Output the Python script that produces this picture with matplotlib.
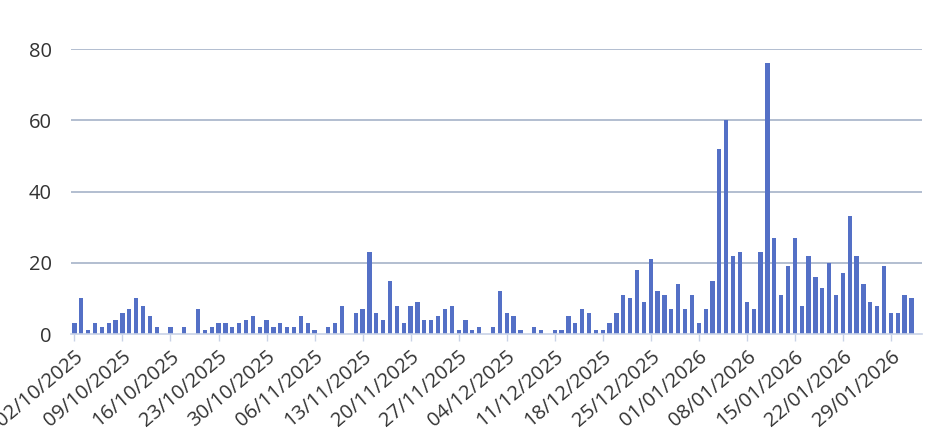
#!/usr/bin/env python3

import numpy as np
import pandas as pd
import matplotlib
matplotlib.use("Agg")
import matplotlib.pyplot as plt
import matplotlib.dates as mdates
from datetime import timedelta

## daily counts, starting 02/10/2025
start_date = "2025-10-02"
counts = [3, 10, 1, 3, 2, 3, 4, 6, 7, 10, 8, 5, 2, 0, 2, 0, 2, 0, 7, 1,
          2, 3, 3, 2, 3, 4, 5, 2, 4, 2, 3, 2, 2, 5, 3, 1, 0, 2, 3, 8,
          0, 6, 7, 23, 6, 4, 15, 8, 3, 8, 9, 4, 4, 5, 7, 8, 1, 4, 1, 2,
          0, 2, 12, 6, 5, 1, 0, 2, 1, 0, 1, 1, 5, 3, 7, 6, 1, 1, 3, 6, 11,
          10, 18, 9, 21, 12, 11, 7, 14, 7, 11, 3, 7, 15, 52, 60, 22, 23, 9, 7, 23,
          76, 27, 11, 19, 27, 8, 22, 16, 13, 20, 11, 17, 33, 22, 14, 9, 8, 19, 6, 6,
          11, 10]
y_ticks = [0, 20, 40, 60, 80]

dates = pd.date_range(start=start_date, periods=len(counts), freq="D")

plt.rcParams['font.family'] = ['Open Sans', 'DejaVu Sans']

fig = plt.figure(figsize=(9.32, 4.44), dpi=100)
ax = fig.add_axes([0.0762, 0.2477, 0.9128, 0.6419])

ax.bar(dates, counts, width=0.62, color="#5470c6", zorder=3)

ax.set_ylim(0, 80)
ax.set_yticks(y_ticks)
ax.set_xlim(dates[0] - timedelta(hours=12), dates[-1] + timedelta(hours=36))

## weekly ticks
ax.set_xticks(dates[::7])
ax.xaxis.set_major_formatter(mdates.DateFormatter("%d/%m/%Y"))
for lab in ax.get_xticklabels():
  lab.set_rotation(40)
  lab.set_ha("right")
  lab.set_va("top")
  lab.set_rotation_mode("anchor")

ax.tick_params(axis="x", colors="#c8d2e6", labelcolor="#333333", labelsize=14.5,
               length=5, width=1, pad=4)
ax.tick_params(axis="y", length=0, labelcolor="#333333", labelsize=14.5, pad=14)

ax.grid(axis="y", color="#9eacc4", linewidth=1.1, zorder=0)
ax.grid(axis="x", visible=False)
for s in ["top", "right", "left"]:
  ax.spines[s].set_visible(False)
ax.spines["bottom"].set_color("#c8d2e6")
ax.spines["bottom"].set_linewidth(1.2)
ax.spines["bottom"].set_zorder(4)

## hide the 0 gridline under the axis line
ax.get_ygridlines()[0].set_visible(False)

fig.savefig("out.png", dpi=100)
